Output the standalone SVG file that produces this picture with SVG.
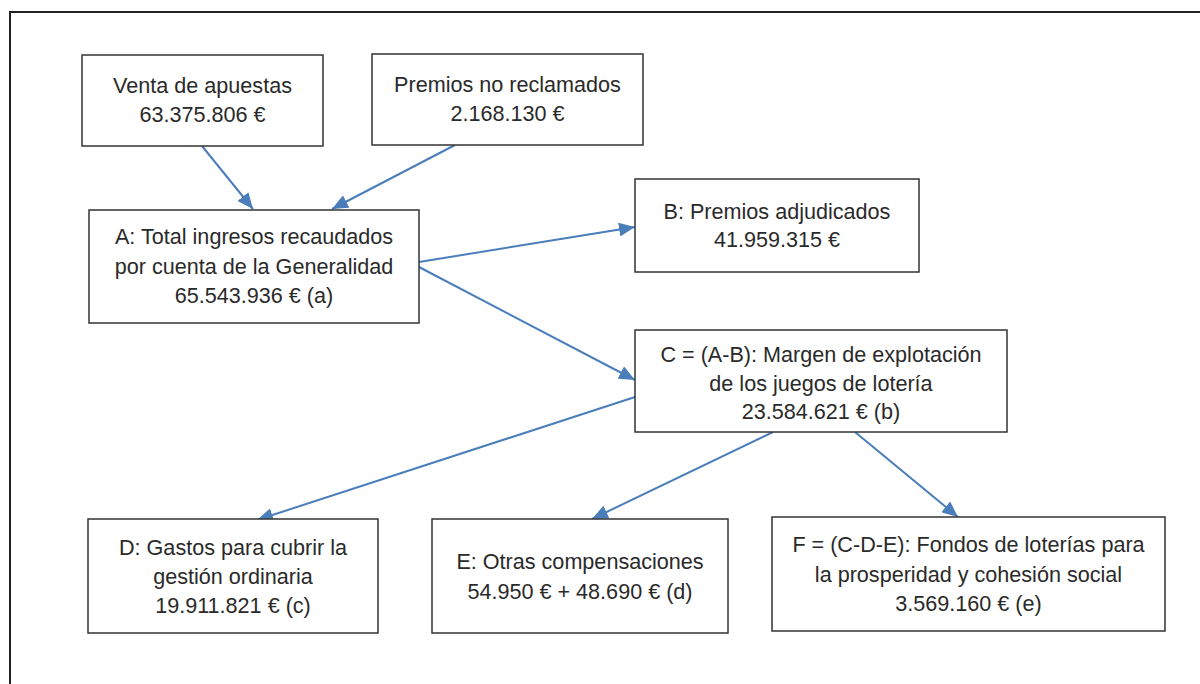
<svg xmlns="http://www.w3.org/2000/svg" width="1200" height="684" viewBox="0 0 1200 684">
<style>
.box{fill:#fff;stroke:#333;stroke-width:1.5}
.t{font-family:"Liberation Sans",Arial,sans-serif;font-size:21.6px;fill:#2a2a2a;text-anchor:middle}
.c{stroke:#4a7ebb;stroke-width:2;fill:none;marker-end:url(#ah)}
</style>
<defs>
<marker id="ah" markerUnits="userSpaceOnUse" markerWidth="18" markerHeight="14" refX="16" refY="7" orient="auto">
<path d="M0,0 L16,7 L0,14 z" fill="#4a7ebb"/>
</marker>
</defs>
<rect x="0" y="0" width="1200" height="684" fill="#fff"/>
<rect x="10" y="12" width="1220" height="700" fill="none" stroke="#222" stroke-width="2"/>
<g id="connectors">
<line class="c" x1="202" y1="146" x2="253" y2="209"/>
<line class="c" x1="455" y1="145" x2="332" y2="209"/>
<line class="c" x1="419" y1="262" x2="635" y2="227"/>
<line class="c" x1="419" y1="267" x2="635" y2="380"/>
<line class="c" x1="635" y1="397" x2="257" y2="520"/>
<line class="c" x1="773" y1="432" x2="592" y2="519"/>
<line class="c" x1="855" y1="432" x2="958" y2="517"/>
</g>
<g id="venta">
<rect class="box" x="82" y="55" width="241" height="91"/>
<text class="t" x="202.5" y="93">Venta de apuestas</text>
<text class="t" x="202.5" y="122">63.375.806 €</text>
</g>
<g id="premios-no-reclamados">
<rect class="box" x="372" y="54" width="271" height="91"/>
<text class="t" x="507.5" y="92">Premios no reclamados</text>
<text class="t" x="507.5" y="121">2.168.130 €</text>
</g>
<g id="A">
<rect class="box" x="89" y="210" width="330" height="113"/>
<text class="t" x="254" y="244">A: Total ingresos recaudados</text>
<text class="t" x="254" y="273.5">por cuenta de la Generalidad</text>
<text class="t" x="254" y="303">65.543.936 € (a)</text>
</g>
<g id="B">
<rect class="box" x="635" y="179" width="284" height="93"/>
<text class="t" x="777" y="219">B: Premios adjudicados</text>
<text class="t" x="777" y="247">41.959.315 €</text>
</g>
<g id="C">
<rect class="box" x="635" y="330" width="372" height="102"/>
<text class="t" x="821" y="362">C = (A-B): Margen de explotación</text>
<text class="t" x="821" y="391">de los juegos de lotería</text>
<text class="t" x="821" y="419">23.584.621 € (b)</text>
</g>
<g id="D">
<rect class="box" x="88" y="519" width="290" height="114"/>
<text class="t" x="233" y="555">D: Gastos para cubrir la</text>
<text class="t" x="233" y="584">gestión ordinaria</text>
<text class="t" x="233" y="613">19.911.821 € (c)</text>
</g>
<g id="E">
<rect class="box" x="432" y="519" width="296" height="114"/>
<text class="t" x="580" y="569">E: Otras compensaciones</text>
<text class="t" x="580" y="599">54.950 € + 48.690 € (d)</text>
</g>
<g id="F">
<rect class="box" x="772" y="517" width="393" height="114"/>
<text class="t" x="968.5" y="552">F = (C-D-E): Fondos de loterías para</text>
<text class="t" x="968.5" y="582">la prosperidad y cohesión social</text>
<text class="t" x="968.5" y="611">3.569.160 € (e)</text>
</g>
</svg>
